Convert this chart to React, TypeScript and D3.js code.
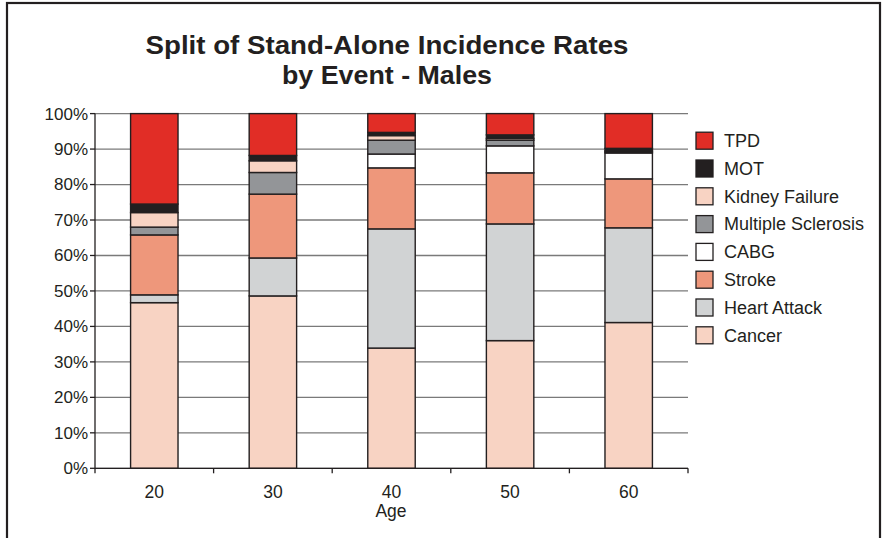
import React from "react";
import * as d3 from "d3";

// Age bands on the x axis
const ages = ["20", "30", "40", "50", "60"];

// Event series, listed bottom-to-top of each stack (percent of total)
const cancer = [46.7, 48.6, 33.9, 36.0, 41.1];
const heartAttack = [2.2, 10.7, 33.6, 32.9, 26.7];
const stroke = [16.9, 18.0, 17.2, 14.4, 13.8];
const cabg = [0, 0, 3.9, 7.6, 7.3];
const multipleSclerosis = [2.2, 6.1, 3.9, 1.6, 0.3];
const kidneyFailure = [4.1, 3.3, 1.3, 0.5, 0.3];
const mot = [2.4, 1.5, 0.9, 1.0, 0.7];
const tpd = [25.5, 11.8, 5.3, 6.0, 9.8];

const seriesNames = [
  "Cancer",
  "Heart Attack",
  "Stroke",
  "CABG",
  "Multiple Sclerosis",
  "Kidney Failure",
  "MOT",
  "TPD",
];
const seriesValues = [cancer, heartAttack, stroke, cabg, multipleSclerosis, kidneyFailure, mot, tpd];
const seriesColors = ["#f8d3c3", "#d1d3d4", "#ee977b", "#ffffff", "#939598", "#f8d3c3", "#231f20", "#e12d26"];

const yTicks = [0, 10, 20, 30, 40, 50, 60, 70, 80, 90, 100];

const W = 883;
const H = 538;
const FONT = "'Liberation Sans', Arial, Helvetica, sans-serif";
const INK = "#231f20";

export default function App() {
  const left = 95;
  const right = 688;
  const top = 113.6;
  const bottom = 468.3;

  const table = ages.map((a, i) => {
    const row: Record<string, number | string> = { age: a };
    seriesNames.forEach((n, k) => (row[n] = seriesValues[k][i]));
    return row;
  });
  const stacked = d3.stack<Record<string, number | string>>().keys(seriesNames)(table as any);

  const x = d3.scaleBand<string>().domain(ages).range([left, right]).paddingInner(0.6).paddingOuter(0.3);
  const y = d3.scaleLinear().domain([0, 100]).range([bottom, top]);
  const step = x.step();
  const gap = (step - x.bandwidth()) / 2;
  const edges = ages.map((a) => (x(a) as number) - gap).concat([right]);

  // Legend reads top-down from TPD to Cancer
  const legendOrder = seriesNames.map((_, i) => i).reverse();

  return (
    <svg
      width={W}
      height={H}
      viewBox={`0 0 ${W} ${H}`}
      style={{ position: "absolute", left: 0, top: 0, background: "#fff" }}
      fontFamily={FONT}
    >
      <rect x={7} y={3} width={873} height={600} fill="#fff" stroke={INK} strokeWidth={2.2} />

      <text
        x={387}
        y={54}
        textAnchor="middle"
        fontSize={26}
        fontWeight="bold"
        fill={INK}
        textLength={483}
        lengthAdjust="spacingAndGlyphs"
      >
        Split of Stand-Alone Incidence Rates
      </text>
      <text
        x={387}
        y={84}
        textAnchor="middle"
        fontSize={26}
        fontWeight="bold"
        fill={INK}
        textLength={210}
        lengthAdjust="spacingAndGlyphs"
      >
        by Event - Males
      </text>

      {/* horizontal gridlines */}
      {yTicks.map((t) => (
        <line key={"g" + t} x1={left} x2={right} y1={y(t)} y2={y(t)} stroke="#7a7a7a" strokeWidth={1.3} />
      ))}

      {/* y axis */}
      <line x1={left} x2={left} y1={top} y2={bottom} stroke={INK} strokeWidth={1.3} />
      {yTicks.map((t) => (
        <g key={"y" + t}>
          <line x1={left - 5} x2={left} y1={y(t)} y2={y(t)} stroke={INK} strokeWidth={1.3} />
          <text x={88} y={y(t)} dy="0.35em" textAnchor="end" fontSize={17} fill={INK}>
            {t}%
          </text>
        </g>
      ))}

      {/* stacked bars */}
      {stacked.map((layer, k) => (
        <g key={seriesNames[k]}>
          {layer.map((d, i) => {
            const h = y(d[0]) - y(d[1]);
            if (h <= 0) return null;
            return (
              <rect
                key={i}
                x={x(ages[i])}
                y={y(d[1])}
                width={x.bandwidth()}
                height={h}
                fill={seriesColors[k]}
                stroke={INK}
                strokeWidth={1.4}
              />
            );
          })}
        </g>
      ))}

      {/* x axis */}
      <line x1={left} x2={right} y1={bottom} y2={bottom} stroke={INK} strokeWidth={1.3} />
      {edges.map((e, i) => (
        <line key={"xt" + i} x1={e} x2={e} y1={bottom} y2={bottom + 5} stroke={INK} strokeWidth={1.3} />
      ))}
      {ages.map((a) => (
        <text
          key={"xl" + a}
          x={(x(a) as number) + x.bandwidth() / 2}
          y={498}
          textAnchor="middle"
          fontSize={17.5}
          fill={INK}
        >
          {a}
        </text>
      ))}
      <text x={391} y={517} textAnchor="middle" fontSize={17.5} fill={INK}>
        Age
      </text>

      {/* legend */}
      {legendOrder.map((k, j) => {
        const cy = 140.7 + j * 27.8;
        return (
          <g key={"lg" + k}>
            <rect x={696} y={cy - 8.5} width={17} height={17} fill={seriesColors[k]} stroke={INK} strokeWidth={1.3} />
            <text x={724} y={cy} dy="0.35em" fontSize={18} fill={INK}>
              {seriesNames[k]}
            </text>
          </g>
        );
      })}
    </svg>
  );
}
